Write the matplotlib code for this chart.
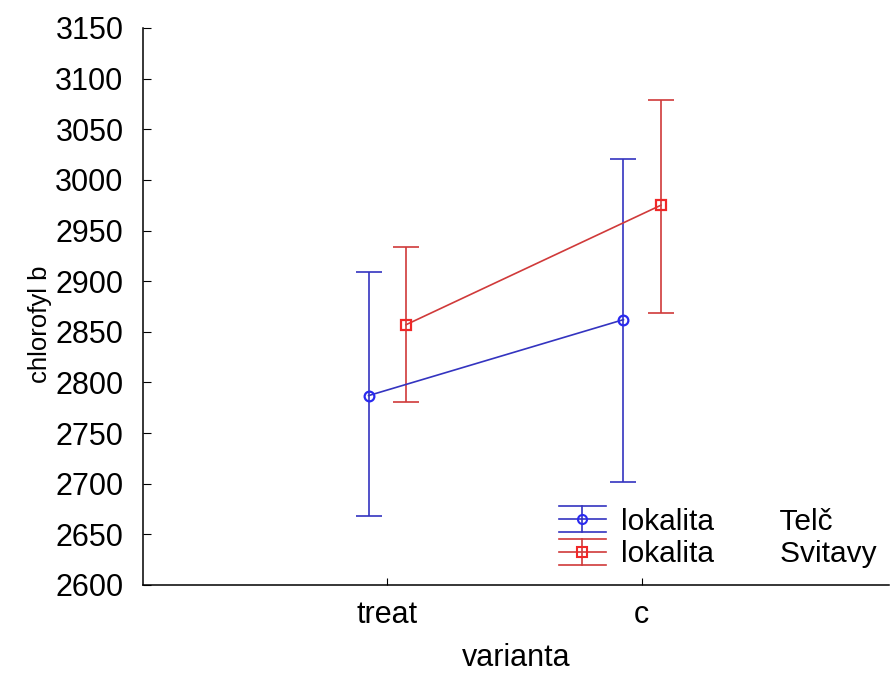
import numpy as np
import matplotlib
matplotlib.use("Agg")
import matplotlib.pyplot as plt
from matplotlib.legend_handler import HandlerBase
from matplotlib.lines import Line2D

plt.rcParams['font.family'] = ['Liberation Sans', 'DejaVu Sans']

# means and confidence limits per site
categories = ["treat", "c"]
sites = ["Telč", "Svitavy"]
telc_mean = [2787, 2862]
telc_low = [2668, 2702]
telc_high = [2909, 3021]
svit_mean = [2857, 2975]
svit_low = [2781, 2869]
svit_high = [2934, 3079]

series = [
    (telc_mean, telc_low, telc_high, "#3434c0", "#2a2af0", "o", -0.072),
    (svit_mean, svit_low, svit_high, "#d03a3a", "#f02828", "s", 0.075),
]


class ErrorbarHandle(HandlerBase):
    # three horizontal strokes crossed by a vertical bar, marker in the middle
    def __init__(self, color, mcolor, marker):
        super().__init__()
        self.color, self.mcolor, self.marker = color, mcolor, marker

    def create_artists(self, legend, orig_handle, xdescent, ydescent,
                       width, height, fontsize, trans):
        arts = []
        ymid = height / 2 - ydescent
        d = 0.62 * height
        for dy in (-d, 0, d):
            arts.append(Line2D([-xdescent, width - xdescent], [ymid + dy] * 2,
                               color=self.color, lw=1.2, transform=trans))
        xm = width / 2 - xdescent
        arts.append(Line2D([xm, xm], [ymid - d, ymid + d],
                           color=self.color, lw=1.2, transform=trans))
        arts.append(Line2D([xm], [ymid], marker=self.marker, ms=6.5, mfc="none",
                           mec=self.mcolor, mew=1.5, transform=trans))
        return arts


fig = plt.figure(figsize=(8.9, 6.73), dpi=100)
ax = fig.add_axes([0.1607, 0.1308, 0.8382, 0.8276])

x = np.arange(len(categories))
handles, handler_map = [], {}
for (mean, low, high, col, mcol, mk, off), site in zip(series, sites):
    mean = np.array(mean)
    err = [mean - np.array(low), np.array(high) - mean]
    ax.errorbar(x + off, mean, yerr=err, fmt="none", ecolor=col,
                elinewidth=1.2, capsize=9.4, capthick=1.2, zorder=2)
    ax.plot(x + off, mean, color=col, lw=1.2, zorder=3)
    ax.plot(x + off, mean, ls="none", marker=mk, ms=7, mfc="none",
            mec=mcol, mew=1.6, zorder=4)
    h = Line2D([], [])
    handles.append(h)
    handler_map[h] = ErrorbarHandle(col, mcol, mk)

labels = [f"lokalita        {s}" for s in sites]
ax.legend(handles, labels, handler_map=handler_map, loc="lower right",
          bbox_to_anchor=(0.983, 0.03), frameon=False, fontsize=21.5,
          handlelength=1.57, handletextpad=0.5, labelspacing=0.15,
          borderaxespad=0.0, borderpad=0.0)

ax.set_xlim(-0.957, 1.97)
ax.set_ylim(2600, 3150)
ax.set_yticks(np.arange(2600, 3151, 50))
ax.set_xticks(x)
ax.set_xticklabels(categories)
ax.tick_params(axis="y", direction="in", length=6, labelsize=22, pad=14)
ax.tick_params(axis="x", direction="in", length=5, labelsize=22, pad=11)
for s in ("top", "right"):
    ax.spines[s].set_visible(False)
for s in ("left", "bottom"):
    ax.spines[s].set_linewidth(1.1)

ax.set_ylabel("chlorofyl b", fontsize=18.5)
ax.yaxis.set_label_coords(-0.122, 0.469)
ax.set_xlabel("varianta", fontsize=22, labelpad=9)

plt.savefig("out.png", dpi=100)
